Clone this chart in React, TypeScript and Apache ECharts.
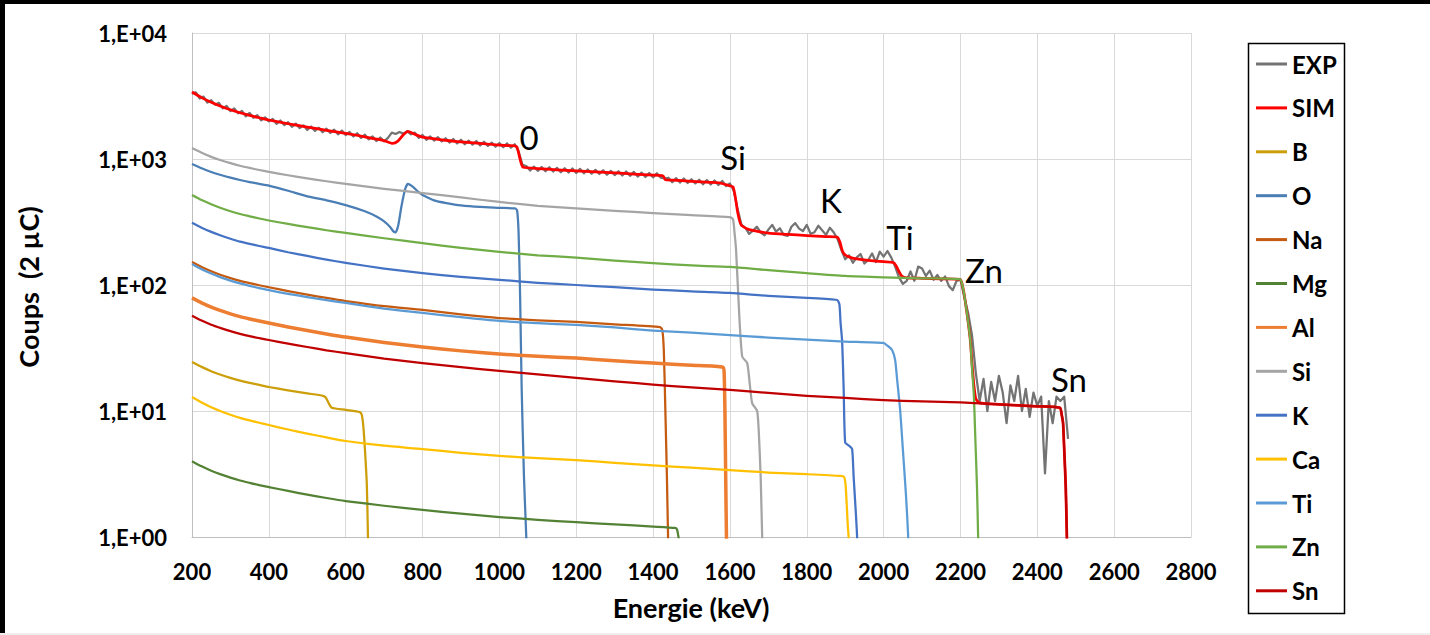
import React, { useEffect, useRef } from "react";
import * as echarts from "echarts";

// ---------- data ----------
const Y_TICK_LABELS = ["1,E+00", "1,E+01", "1,E+02", "1,E+03", "1,E+04"];
const X_MIN = 200;
const X_MAX = 2800;
const X_STEP = 200;

const SERIES_NAMES = ["EXP", "SIM", "B", "O", "Na", "Mg", "Al", "Si", "K", "Ca", "Ti", "Zn", "Sn"];
const SERIES_COLORS = ["#737373", "#FF0000", "#CC9F0A", "#4A7EB5", "#C55A11", "#548235", "#ED7D31", "#A5A5A5", "#4472C4", "#FFC000", "#5B9BD5", "#70AD47", "#C00000"];

const EXP: [number, number][] = [
  [200, 3300], [210, 3380], [220, 3020], [230, 3130], [240, 2800], [250, 2930], [260, 2700], [270, 2790], [280, 2520], [290, 2640],
  [300, 2400], [310, 2520], [320, 2300], [330, 2410], [340, 2180], [350, 2320], [360, 2120], [370, 2230], [380, 2030], [390, 2140],
  [400, 1990], [410, 2080], [420, 1900], [430, 2020], [440, 1860], [450, 1960], [460, 1800], [470, 1910], [480, 1760], [490, 1850],
  [500, 1700], [510, 1810], [520, 1670], [530, 1770], [540, 1630], [550, 1740], [560, 1610], [570, 1710], [580, 1570], [590, 1680],
  [600, 1550], [610, 1640], [620, 1510], [630, 1600], [640, 1470], [650, 1560], [660, 1430], [670, 1510], [680, 1390], [690, 1480],
  [700, 1380], [710, 1470], [720, 1620], [730, 1580], [740, 1640], [750, 1590], [760, 1660], [770, 1570], [780, 1620], [790, 1470],
  [800, 1550], [810, 1420], [820, 1510], [830, 1400], [840, 1490], [850, 1380], [860, 1460], [870, 1350], [880, 1440], [890, 1330],
  [900, 1420], [910, 1310], [920, 1400], [930, 1300], [940, 1390], [950, 1280], [960, 1370], [970, 1270], [980, 1350], [990, 1250],
  [1000, 1340], [1010, 1240], [1020, 1330], [1030, 1230], [1040, 1310], [1050, 1150], [1060, 900], [1070, 880], [1080, 810], [1090, 870],
  [1100, 805], [1110, 865], [1120, 800], [1130, 860], [1140, 795], [1150, 850], [1160, 785], [1170, 845], [1180, 780], [1190, 840],
  [1200, 775], [1210, 835], [1220, 770], [1230, 825], [1240, 765], [1250, 820], [1260, 760], [1270, 815], [1280, 750], [1290, 805],
  [1300, 745], [1310, 800], [1320, 740], [1330, 795], [1340, 735], [1350, 790], [1360, 725], [1370, 780], [1380, 720], [1390, 775],
  [1400, 715], [1410, 770], [1420, 710], [1430, 700], [1440, 710], [1450, 655], [1460, 705], [1470, 650], [1480, 700], [1490, 645],
  [1500, 690], [1510, 640], [1520, 685], [1530, 630], [1540, 680], [1550, 628], [1560, 675], [1570, 622], [1580, 670], [1590, 610],
  [1600, 640], [1610, 560], [1620, 400], [1630, 300], [1640, 285], [1650, 255], [1660, 270], [1670, 290], [1680, 262], [1690, 248],
  [1700, 275], [1710, 300], [1720, 265], [1730, 282], [1740, 250], [1750, 245], [1760, 290], [1770, 310], [1780, 280], [1790, 268],
  [1800, 300], [1810, 255], [1820, 262], [1830, 295], [1840, 272], [1850, 250], [1860, 285], [1870, 262], [1880, 232], [1890, 190],
  [1900, 160], [1910, 172], [1920, 150], [1930, 166], [1940, 176], [1950, 148], [1960, 158], [1970, 178], [1980, 152], [1990, 184],
  [2000, 168], [2010, 186], [2020, 165], [2030, 140], [2040, 115], [2050, 102], [2060, 108], [2070, 128], [2080, 108], [2090, 140],
  [2100, 135], [2110, 118], [2120, 130], [2130, 110], [2140, 120], [2150, 108], [2160, 117], [2170, 98], [2180, 91], [2190, 108],
  [2200, 110], [2210, 80], [2220, 60], [2230, 40], [2240, 20], [2250, 12], [2260, 18], [2270, 10], [2280, 17], [2290, 12],
  [2300, 19], [2310, 14], [2320, 8], [2330, 16], [2340, 12], [2350, 19], [2360, 10], [2370, 15], [2380, 9], [2390, 14],
  [2400, 11], [2410, 13], [2420, 3.2], [2430, 12], [2440, 8], [2450, 13], [2460, 12], [2470, 13], [2480, 6],
];

const SIM: [number, number][] = [
  [200, 3400], [225, 3070], [250, 2820], [275, 2620], [300, 2460], [325, 2328], [350, 2218], [375, 2126], [400, 2040], [450, 1905],
  [500, 1792], [550, 1689], [600, 1600], [650, 1500], [700, 1400], [722, 1330], [735, 1380], [750, 1560], [762, 1660], [780, 1570],
  [800, 1490], [850, 1420], [900, 1370], [950, 1330], [1000, 1290], [1040, 1270], [1046, 1240], [1052, 1050], [1058, 900], [1062, 860],
  [1100, 840], [1150, 820], [1200, 805], [1250, 790], [1300, 775], [1350, 760], [1400, 745], [1426, 733], [1432, 685], [1450, 680],
  [1500, 665], [1550, 652], [1574, 645], [1600, 612], [1608, 600], [1614, 500], [1620, 380], [1627, 310], [1632, 294], [1650, 275],
  [1679, 264], [1700, 258], [1750, 252], [1800, 247], [1850, 242], [1879, 240], [1886, 220], [1893, 185], [1900, 173], [1915, 165],
  [1931, 161], [1960, 157], [2000, 153], [2025, 151], [2032, 143], [2040, 128], [2048, 117], [2060, 114], [2100, 113], [2150, 112],
  [2199, 111], [2205, 100], [2212, 76], [2225, 38], [2230, 24], [2235, 16], [2240, 12.5], [2250, 11.6], [2300, 11.3], [2400, 10.9],
  [2459, 10.6], [2463, 9.5], [2467, 8], [2470, 5], [2474, 2.5], [2477, 1], [2479, 0.5],
];

const B: [number, number][] = [
  [200, 24.5], [225, 22.4], [250, 20.7], [275, 19.4], [300, 18.3], [325, 17.4], [350, 16.7], [375, 16.1], [400, 15.5], [450, 14.6],
  [500, 13.8], [541, 13.2], [548, 12.8], [556, 11.5], [564, 10.6], [600, 10.2], [637, 9.8], [642, 9.3], [646, 7.5], [650, 5],
  [655, 2.6], [658, 1], [660, 0.5],
];

const O: [number, number][] = [
  [200, 912], [225, 844], [250, 789], [275, 746], [300, 711], [325, 681], [350, 656], [375, 635], [400, 615], [450, 560],
  [500, 505], [550, 470], [600, 431], [650, 385], [680, 350], [700, 320], [715, 290], [725, 265], [730, 262], [737, 300],
  [745, 420], [755, 580], [762, 634], [775, 600], [790, 545], [800, 518], [830, 470], [862, 447], [900, 428], [950, 416],
  [1000, 410], [1040, 405], [1046, 392], [1050, 260], [1054, 80], [1058, 15], [1064, 3], [1070, 1], [1073, 0.5],
];

const NA: [number, number][] = [
  [200, 152], [225, 139], [250, 128.5], [275, 120], [300, 113.5], [325, 108], [350, 103.5], [375, 99.5], [400, 96], [450, 89.4],
  [500, 83.9], [550, 78.9], [600, 74.6], [700, 68], [800, 63.4], [900, 58.5], [1000, 54.7], [1100, 52.5], [1200, 50.9], [1300, 48.8],
  [1418, 46.4], [1424, 44], [1428, 30], [1432, 10], [1436, 3], [1439, 1], [1441, 0.5],
];

const MG: [number, number][] = [
  [200, 4.0], [225, 3.64], [250, 3.36], [275, 3.14], [300, 2.96], [325, 2.81], [350, 2.69], [375, 2.58], [400, 2.49], [450, 2.32],
  [500, 2.17], [550, 2.04], [600, 1.93], [700, 1.77], [800, 1.64], [900, 1.53], [1000, 1.44], [1100, 1.37], [1200, 1.31], [1300, 1.26],
  [1400, 1.21], [1457, 1.18], [1462, 1.15], [1465, 1.05], [1468, 0.9], [1471, 0.5],
];

const AL: [number, number][] = [
  [200, 79], [225, 72.2], [250, 66.8], [275, 62.5], [300, 59.0], [325, 56.1], [350, 53.8], [375, 51.8], [400, 49.9], [450, 46.4],
  [500, 43.5], [550, 40.9], [600, 38.6], [700, 35], [800, 32.2], [900, 30], [1000, 28.3], [1100, 27.2], [1200, 26.3], [1300, 25],
  [1400, 24], [1500, 23.1], [1582, 22.3], [1585, 20], [1587, 10], [1589, 3], [1591, 1], [1593, 0.5],
];

const SI: [number, number][] = [
  [200, 1220], [225, 1119], [250, 1040], [275, 977], [300, 927], [325, 884], [350, 849], [375, 818], [400, 790], [450, 743],
  [500, 703], [550, 666], [600, 634], [700, 580], [800, 537], [900, 495], [1000, 456], [1100, 425], [1200, 405], [1300, 388],
  [1400, 372], [1500, 358], [1600, 345], [1608, 333], [1612, 260], [1616, 190], [1624, 60], [1632, 27], [1645, 24], [1652, 16],
  [1658, 11.5], [1671, 10], [1676, 6], [1680, 3], [1684, 1], [1688, 0.4],
];

const K: [number, number][] = [
  [200, 312], [225, 285], [250, 264], [275, 247], [300, 233], [325, 221], [350, 212], [375, 204], [400, 197], [450, 182],
  [500, 170], [550, 159], [600, 150], [700, 135], [800, 124], [900, 116], [1000, 110], [1100, 104], [1200, 100], [1300, 96],
  [1400, 92], [1500, 89], [1600, 86.5], [1700, 82], [1800, 79], [1879, 76], [1885, 70], [1888, 50], [1892, 36], [1896, 15],
  [1900, 5.6], [1910, 5.3], [1918, 5.0], [1922, 3], [1928, 1.5], [1931, 1], [1933, 0.5],
];

const CA: [number, number][] = [
  [200, 12.9], [225, 11.67], [250, 10.7], [275, 9.95], [300, 9.34], [325, 8.83], [350, 8.42], [375, 8.07], [400, 7.74], [450, 7.13],
  [500, 6.62], [550, 6.17], [600, 5.78], [700, 5.3], [800, 4.99], [900, 4.65], [1000, 4.4], [1100, 4.22], [1200, 4.08], [1300, 3.88],
  [1400, 3.7], [1500, 3.55], [1600, 3.4], [1700, 3.25], [1800, 3.15], [1887, 3.05], [1897, 3.0], [1901, 2.6], [1904, 1.8], [1907, 1.2],
  [1910, 0.9], [1912, 0.5],
];

const TI: [number, number][] = [
  [200, 147], [225, 133.6], [250, 123.3], [275, 115], [300, 108.4], [325, 102.9], [350, 98.4], [375, 94.5], [400, 91], [450, 85.1],
  [500, 80.2], [550, 75.8], [600, 72], [700, 65], [800, 60], [900, 55.5], [1000, 51.8], [1100, 49.8], [1200, 48.2], [1300, 46],
  [1400, 43.5], [1500, 41.8], [1600, 40], [1700, 38.3], [1800, 36.8], [1900, 35.6], [1999, 34.7], [2010, 33], [2022, 30.5], [2030, 25.4],
  [2035, 18], [2043, 10.2], [2050, 5], [2058, 2.2], [2064, 1], [2066, 0.5],
];

const ZN: [number, number][] = [
  [200, 518], [225, 472], [250, 437], [275, 408], [300, 385], [325, 366], [350, 351], [375, 337], [400, 325], [450, 305],
  [500, 288], [550, 272], [600, 259], [700, 235], [800, 215], [900, 197], [1000, 183], [1100, 172], [1200, 165], [1300, 156],
  [1400, 149], [1500, 143], [1600, 139], [1700, 131], [1800, 124], [1900, 118], [2000, 115], [2100, 113], [2199, 111], [2205, 100],
  [2212, 76], [2225, 38], [2230, 22], [2235, 13], [2238, 7], [2243, 2.5], [2246, 1], [2248, 0.5],
];

const SN: [number, number][] = [
  [200, 57], [225, 52.2], [250, 48.4], [275, 45.5], [300, 43.0], [325, 41.0], [350, 39.3], [375, 37.9], [400, 36.6], [450, 34.2],
  [500, 32.2], [550, 30.3], [600, 28.8], [700, 26], [800, 24], [900, 22.3], [1000, 20.8], [1100, 19.5], [1200, 18.3], [1300, 17.2],
  [1400, 16.2], [1500, 15.4], [1600, 14.7], [1700, 13.9], [1800, 13.2], [1900, 12.7], [2000, 12.2], [2100, 11.9], [2200, 11.7], [2300, 11.3],
  [2400, 10.9], [2459, 10.6], [2463, 9.5], [2467, 8], [2470, 5], [2474, 2.5], [2477, 1], [2479, 0.5],
];

const SERIES_DATA = [EXP, SIM, B, O, NA, MG, AL, SI, K, CA, TI, ZN, SN];

const PEAK_LABELS = ["0", "Si", "K", "Ti", "Zn", "Sn"];

export default function App() {
  const ref = useRef<HTMLDivElement>(null);

  useEffect(() => {
    if (!ref.current) return;
    const chart = echarts.init(ref.current, null, { renderer: "svg" });

    const font = "Lato";
    const peakPos = [
      [529, 137],
      [733, 157],
      [831, 200],
      [900, 237],
      [984, 270],
      [1069, 379],
    ];

    const series = SERIES_NAMES.map((name, i) => ({
      name,
      type: "line",
      data: SERIES_DATA[i],
      symbol: "none",
      showSymbol: false,
      smooth: name === "EXP" ? false : 0.2,
      clip: true,
      color: SERIES_COLORS[i],
      itemStyle: { color: SERIES_COLORS[i] },
      lineStyle: {
        color: SERIES_COLORS[i],
        width: name === "SIM" ? 2.75 : name === "Al" ? 3.5 : 2.25,
        join: "round",
      },
      emphasis: { disabled: true },
      z: 2,
    }));

    const textStyleBase = {
      fill: "#000",
      align: "center",
      verticalAlign: "middle",
      textAlign: "center",
      textVerticalAlign: "middle",
      fontFamily: font,
    };

    const graphic: any[] = [
      { type: "rect", z: 100, shape: { x: 0, y: 0, width: 1430, height: 4 }, style: { fill: "#000" } },
      { type: "rect", z: 100, shape: { x: 0, y: 0, width: 5, height: 635 }, style: { fill: "#000" } },
      { type: "rect", z: 100, shape: { x: 0, y: 633, width: 1430, height: 2 }, style: { fill: "#EEEEEE" } },
      {
        type: "rect",
        z: 50,
        shape: { x: 1248.5, y: 43.5, width: 96, height: 570 },
        style: { fill: "none", stroke: "#000", lineWidth: 1.5 },
      },
      {
        type: "text",
        z: 50,
        x: 691,
        y: 607,
        style: { ...textStyleBase, text: "Energie (keV)", fontWeight: "bold", fontSize: 27 },
      },
      {
        type: "text",
        z: 50,
        x: 28,
        y: 287,
        rotation: Math.PI / 2,
        style: { ...textStyleBase, text: "Coups  (2 µC)", fontWeight: "bold", fontSize: 27 },
      },
      ...PEAK_LABELS.map((t, i) => ({
        type: "text",
        z: 50,
        x: peakPos[i][0],
        y: peakPos[i][1],
        style: { ...textStyleBase, text: t, fontSize: 33 },
      })),
    ];

    chart.setOption({
      animation: false,
      backgroundColor: "#ffffff",
      grid: { left: 192, top: 33, width: 999, height: 504, containLabel: false, outerBoundsMode: "none" },
      xAxis: {
        type: "value",
        min: X_MIN,
        max: X_MAX,
        interval: X_STEP,
        axisLine: { show: true, lineStyle: { color: "#BFBFBF", width: 1 } },
        axisTick: { show: false },
        splitLine: { show: true, lineStyle: { color: "#D9D9D9", width: 1 } },
        axisLabel: {
          margin: 23,
          fontFamily: font,
          fontWeight: "bold",
          fontSize: 22,
          color: "#000",
          formatter: (v: number) => String(v),
        },
      },
      yAxis: {
        type: "log",
        logBase: 10,
        min: 1,
        max: 10000,
        axisLine: { show: true, lineStyle: { color: "#BFBFBF", width: 1 } },
        axisTick: { show: false },
        minorTick: { show: false },
        minorSplitLine: { show: false },
        splitLine: { show: true, lineStyle: { color: "#D9D9D9", width: 1 } },
        axisLabel: {
          margin: 25,
          fontFamily: font,
          fontWeight: "bold",
          fontSize: 22,
          color: "#000",
          formatter: (v: number) => Y_TICK_LABELS[Math.round(Math.log10(v))] ?? "",
        },
      },
      legend: {
        data: SERIES_NAMES,
        orient: "vertical",
        left: 1256,
        top: 52,
        padding: 0,
        itemGap: 19.9,
        itemWidth: 31,
        itemHeight: 3,
        itemTextGap: 4,
        icon: "rect",
        selectedMode: false,
        textStyle: {
          fontFamily: font,
          fontWeight: "bold",
          fontSize: 24,
          lineHeight: 24,
          color: "#000",
        },
      },
      graphic,
      series,
    });

    return () => chart.dispose();
  }, []);

  return (
    <div
      ref={ref}
      style={{ position: "fixed", left: 0, top: 0, width: 1430, height: 635, background: "#fff" }}
    />
  );
}
